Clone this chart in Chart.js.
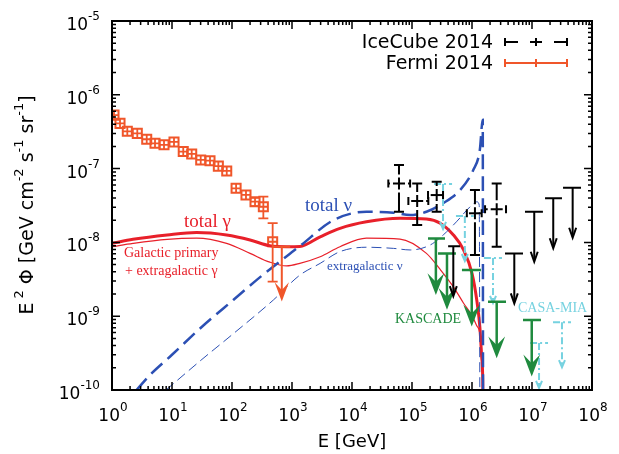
<!DOCTYPE html>
<html>
<head>
<meta charset="utf-8">
<script src="https://cdn.jsdelivr.net/npm/chart.js@4.4.1/dist/chart.umd.min.js"></script>
<style>
  html, body { margin: 0; padding: 0; background: #fff; }
  #c { display: block; }
</style>
</head>
<body>
<canvas id="c" width="619" height="454"></canvas>
<script>
// ---- model curves (E in GeV, E^2 Phi in GeV cm^-2 s^-1 sr^-1) ----
const gammaE   = [1, 2.24, 8.3, 25.7, 81.3, 200, 427, 813, 1350, 2950, 6310, 17400, 63100, 174000, 295000, 490000, 724000, 1.0e6, 1.2e6, 1.35e6, 1.45e6, 1.51e6, 1.55e6];
const gammaTot = [9.7e-9, 1.1e-8, 1.26e-8, 1.36e-8, 1.26e-8, 1.08e-8, 9.0e-9, 8.75e-9, 8.8e-9, 1.19e-8, 1.55e-8, 1.9e-8, 2.12e-8, 2.07e-8, 1.82e-8, 1.26e-8, 7.9e-9, 3.8e-9, 1.66e-9, 7.2e-10, 2.8e-10, 1.36e-10, 1e-11];
const gammaGal = [8.75e-9, 9.7e-9, 1.1e-8, 1.14e-8, 9.7e-9, 7.1e-9, 5.4e-9, 4.8e-9, 5.2e-9, 6.4e-9, 8.75e-9, 1.14e-8, 1.11e-8, 7.1e-9, 4.3e-9, 2.5e-9, 1.5e-9, 1.02e-9, 7.4e-10, 5.9e-10, 2.9e-10, 1.36e-10, 1e-11];

const nuTotE = [2.57, 4.3, 10, 31.6, 105, 316, 1000, 1350, 4900, 17400, 49000, 93300, 174000, 331000, 631000, 1.05e6, 1.35e6, 1.51e6, 1.53e6];
const nuTotF = [1e-10, 1.6e-10, 3.0e-10, 7.2e-10, 1.66e-9, 3.55e-9, 7.4e-9, 8.9e-9, 2.0e-8, 2.6e-8, 2.53e-8, 2.35e-8, 2.6e-8, 3.4e-8, 5.1e-8, 9.6e-8, 1.79e-7, 4.6e-7, 1e-11];

const nuExE = [7.94, 31.6, 100, 490, 1350, 2950, 6310, 17400, 49000, 93300, 200000, 331000, 550000, 933000, 1.2e6, 1.32e6, 1.36e6];
const nuExF = [1e-10, 2.6e-10, 5.6e-10, 1.66e-9, 3.6e-9, 5.2e-9, 7.5e-9, 8.6e-9, 8.3e-9, 7.9e-9, 9.2e-9, 1.26e-8, 1.9e-8, 3.05e-8, 3.55e-8, 3.2e-8, 1e-11];

// ---- Fermi 2014 ----
const fermiE   = [1.08, 1.36, 1.8, 2.64, 3.79, 5.21, 7.36, 10.8, 15.4, 21.3, 30.1, 43.0, 59.2, 81.7, 117, 171, 242, 333, 476];
const fermiF   = [5.3e-7, 4.1e-7, 3.2e-7, 3.0e-7, 2.5e-7, 2.2e-7, 2.1e-7, 2.3e-7, 1.7e-7, 1.58e-7, 1.31e-7, 1.28e-7, 1.08e-7, 9.3e-8, 5.4e-8, 4.4e-8, 3.56e-8, 3.04e-8, 1.02e-8];
const fermiFlo = [null, null, null, null, null, null, null, null, null, null, null, null, null, null, null, null, 3.1e-8, 2.12e-8, 2.94e-9];
const fermiFhi = [null, null, null, null, null, null, null, null, null, null, null, null, null, null, null, null, 4.0e-8, 4.17e-8, 1.83e-8];
const fermiUlE = [676], fermiUlF = [8.75e-9], fermiUlElo = [479], fermiUlEhi = [933];

// ---- IceCube 2014 ----
const iceE   = [6.07e4, 1.22e5, 2.58e5, 1.12e6, 2.58e6];
const iceF   = [6.3e-8, 3.64e-8, 4.38e-8, 2.48e-8, 2.81e-8];
const iceElo = [4.03e4, 8.7e4, 1.85e5, 8.2e5, 1.65e6];
const iceEhi = [9.3e4, 1.87e5, 3.29e5, 1.45e6, 3.69e6];
const iceFlo = [2.6e-8, 1.72e-8, 2.6e-8, 6.75e-9, 8.75e-9];
const iceFhi = [1.12e-7, 6.3e-8, 6.63e-8, 5.13e-8, 6.3e-8];
const iceUlE   = [4.88e5, 5.07e6, 1.09e7, 2.26e7, 4.76e7];
const iceUlF   = [8.9e-9, 7.1e-9, 2.6e-8, 3.96e-8, 5.5e-8];
const iceUlElo = [4.0e5, 3.55e6, 7.64e6, 1.65e7, 3.29e7];
const iceUlEhi = [6.3e5, 7.08e6, 1.52e7, 3.16e7, 6.56e7];

// ---- KASCADE ----
const kasE   = [2.5e5, 3.83e5, 9.9e5, 2.58e6, 9.9e6];
const kasF   = [1.13e-8, 7.1e-9, 4.23e-9, 1.57e-9, 8.9e-10];
const kasElo = [1.85e5, 2.71e5, 6.8e5, 1.85e6, 7.08e6];
const kasEhi = [3.55e5, 5.4e5, 1.41e6, 3.69e6, 1.41e7];

// ---- CASA-MIA ----
const casaE   = [3.29e5, 7.6e5, 2.24e6, 1.31e7, 3.16e7];
const casaF   = [6.2e-8, 2.28e-8, 6.15e-9, 4.34e-10, 8.3e-10];
const casaElo = [2.33e5, 5.4e5, 1.58e6, 9.3e6, 2.24e7];
const casaEhi = [4.65e5, 1.07e6, 3.16e6, 1.85e7, 4.47e7];

// axis ticks
const xDecades = [0, 1, 2, 3, 4, 5, 6, 7, 8];
const yDecades = [-10, -9, -8, -7, -6, -5];

const RED = '#e8202a', ORANGE = '#f0562a', BLUE = '#2c50b4', GREEN = '#1f8a3e', CYAN = '#76d2e0';

const pts = (xs, ys) => xs.map((x, i) => ({ x, y: ys[i] }));

function arrowHead(ctx, x, y, w, h, fill) {
  ctx.beginPath();
  ctx.moveTo(x - w, y - h);
  ctx.lineTo(x, y);
  ctx.lineTo(x + w, y - h);
  if (fill) { ctx.lineTo(x, y - h * 0.6); ctx.closePath(); ctx.fill(); }
  ctx.stroke();
}

function upperLimit(ctx, X, Y, e, f, elo, ehi, color, len, opt) {
  const x = X(e), y = Y(f);
  ctx.strokeStyle = color; ctx.fillStyle = color;
  ctx.setLineDash(opt.dash || []);
  ctx.beginPath();
  ctx.moveTo(X(elo), y); ctx.lineTo(X(ehi), y);
  ctx.moveTo(x, y); ctx.lineTo(x, y + len - 2);
  ctx.stroke();
  ctx.setLineDash([]);
  arrowHead(ctx, x, y + len, opt.hw, opt.hh, opt.fill);
}

function arm(ctx, x0, y0, x1, y1, dash) {
  ctx.setLineDash(dash);
  ctx.beginPath(); ctx.moveTo(x0, y0); ctx.lineTo(x1, y1); ctx.stroke();
  ctx.setLineDash([]);
}

function pow10(ctx, exp, x, y, align) {
  const base = '10', sup = String(exp);
  ctx.font = '17px "DejaVu Sans"';
  const wb = ctx.measureText(base).width;
  ctx.font = '12px "DejaVu Sans"';
  const ws = ctx.measureText(sup).width;
  let x0 = align === 'right' ? x - wb - ws : x - (wb + ws) / 2;
  ctx.textAlign = 'left'; ctx.textBaseline = 'alphabetic';
  ctx.font = '17px "DejaVu Sans"';
  ctx.fillText(base, x0, y);
  ctx.font = '12px "DejaVu Sans"';
  ctx.fillText(sup, x0 + wb, y - 10);
}

function richText(ctx, parts, cx, cy) {
  let w = 0;
  parts.forEach(p => { ctx.font = p[1] ? '13px "DejaVu Sans"' : '19px "DejaVu Sans"'; w += ctx.measureText(p[0]).width; });
  let x = cx - w / 2;
  ctx.textAlign = 'left'; ctx.textBaseline = 'alphabetic';
  parts.forEach(p => {
    ctx.font = p[1] ? '13px "DejaVu Sans"' : '19px "DejaVu Sans"';
    ctx.fillText(p[0], x, p[1] ? cy - 10 : cy);
    x += ctx.measureText(p[0]).width;
  });
}

const overlay = {
  id: 'overlay',
  afterDatasetsDraw(chart) {
    const ctx = chart.ctx, a = chart.chartArea;
    const X = v => chart.scales.x.getPixelForValue(v);
    const Y = v => chart.scales.y.getPixelForValue(v);

    ctx.save();
    ctx.beginPath(); ctx.rect(a.left, a.top, a.right - a.left, a.bottom - a.top); ctx.clip();
    ctx.lineCap = 'butt';

    // CASA-MIA (dash-dot)
    ctx.lineWidth = 2;
    casaE.forEach((e, i) => upperLimit(ctx, X, Y, e, casaF[i], casaElo[i], casaEhi[i], CYAN, 45,
      { dash: [7, 3, 2, 3], hw: 3, hh: 7, fill: false }));

    // KASCADE
    ctx.lineWidth = 2.5;
    kasE.forEach((e, i) => upperLimit(ctx, X, Y, e, kasF[i], kasElo[i], kasEhi[i], GREEN, 53,
      { hw: 5, hh: 13, fill: true }));

    // IceCube upper limits
    ctx.lineWidth = 2;
    iceUlE.forEach((e, i) => upperLimit(ctx, X, Y, e, iceUlF[i], iceUlElo[i], iceUlEhi[i], '#000', 50,
      { hw: 3.5, hh: 10, fill: false }));

    // IceCube points
    ctx.strokeStyle = '#000'; ctx.lineWidth = 2;
    const icd = [6, 3, 200];
    iceE.forEach((e, i) => {
      const x = X(e), y = Y(iceF[i]);
      const xl = X(iceElo[i]), xh = X(iceEhi[i]), yl = Y(iceFlo[i]), yh = Y(iceFhi[i]);
      arm(ctx, x, y, xl, y, icd); arm(ctx, x, y, xh, y, icd);
      arm(ctx, x, y, x, yl, icd); arm(ctx, x, y, x, yh, icd);
      ctx.beginPath();
      ctx.moveTo(xl, y - 4); ctx.lineTo(xl, y + 4);
      ctx.moveTo(xh, y - 4); ctx.lineTo(xh, y + 4);
      ctx.moveTo(x - 5, yl); ctx.lineTo(x + 5, yl);
      ctx.moveTo(x - 5, yh); ctx.lineTo(x + 5, yh);
      ctx.stroke();
    });

    // Fermi: inner cross + error bars
    ctx.strokeStyle = ORANGE; ctx.lineWidth = 1.8;
    fermiE.forEach((e, i) => {
      const x = X(e), y = Y(fermiF[i]);
      ctx.beginPath();
      ctx.moveTo(x - 4.5, y); ctx.lineTo(x + 4.5, y);
      ctx.moveTo(x, y - 4.5); ctx.lineTo(x, y + 4.5);
      if (fermiFhi[i] !== null) {
        const yh = Y(fermiFhi[i]), yl = Y(fermiFlo[i]);
        ctx.moveTo(x, yh); ctx.lineTo(x, yl);
        ctx.moveTo(x - 5, yh); ctx.lineTo(x + 5, yh);
        ctx.moveTo(x - 5, yl); ctx.lineTo(x + 5, yl);
      }
      ctx.stroke();
    });
    ctx.lineWidth = 2;
    fermiUlE.forEach((e, i) => upperLimit(ctx, X, Y, e, fermiUlF[i], fermiUlElo[i], fermiUlEhi[i], ORANGE, 52,
      { hw: 4.5, hh: 12, fill: true }));
    ctx.restore();

    // frame and ticks
    ctx.save();
    ctx.strokeStyle = '#000'; ctx.lineWidth = 2;
    ctx.strokeRect(a.left, a.top, a.right - a.left, a.bottom - a.top);
    ctx.lineWidth = 1.5;
    ctx.beginPath();
    xDecades.forEach(d => {
      for (let m = 1; m <= 9; m++) {
        const v = m * Math.pow(10, d);
        if (v > 1e8) break;
        const x = X(v), L = m === 1 ? 8 : 4;
        ctx.moveTo(x, a.bottom); ctx.lineTo(x, a.bottom - L);
        ctx.moveTo(x, a.top); ctx.lineTo(x, a.top + L);
      }
    });
    yDecades.forEach(d => {
      for (let m = 1; m <= 9; m++) {
        const v = m * Math.pow(10, d);
        if (v > 1e-5 * 1.0001) break;
        const y = Y(v), L = m === 1 ? 8 : 4;
        ctx.moveTo(a.left, y); ctx.lineTo(a.left + L, y);
        ctx.moveTo(a.right, y); ctx.lineTo(a.right - L, y);
      }
    });
    ctx.stroke();

    // tick labels
    ctx.fillStyle = '#000';
    xDecades.forEach(d => pow10(ctx, d, X(Math.pow(10, d)) + 1, a.bottom + 31, 'center'));
    yDecades.forEach(d => pow10(ctx, d, a.left - 12, Y(Math.pow(10, d)) + 9, 'right'));

    // axis titles
    ctx.font = '18px "DejaVu Sans"'; ctx.textAlign = 'center';
    ctx.fillText('E [GeV]', (a.left + a.right) / 2, 447);
    ctx.save();
    ctx.translate(33, 205); ctx.rotate(-Math.PI / 2);
    richText(ctx, [['E', 0], [' 2', 1], [' Φ [GeV cm', 0], ['-2', 1], [' s', 0], ['-1', 1], [' sr', 0], ['-1', 1], [']', 0]], 0, 0);
    ctx.restore();

    // legend
    ctx.font = '19px "DejaVu Sans"'; ctx.textAlign = 'right'; ctx.textBaseline = 'middle';
    ctx.fillText('IceCube 2014', 493, 43);
    ctx.fillText('Fermi 2014', 493, 64);
    const lx0 = 505, lx1 = 567, lc = (lx0 + lx1) / 2;
    ctx.lineWidth = 2; ctx.strokeStyle = '#000';
    arm(ctx, lc, 42, lx0, 42, [6, 12, 200]); arm(ctx, lc, 42, lx1, 42, [6, 12, 200]);
    ctx.beginPath();
    [lx0, lc, lx1].forEach(x => { ctx.moveTo(x, 38); ctx.lineTo(x, 46); });
    ctx.stroke();
    ctx.strokeStyle = ORANGE;
    ctx.beginPath();
    ctx.moveTo(lx0, 63); ctx.lineTo(lx1, 63);
    [lx0, lc, lx1].forEach(x => { ctx.moveTo(x, 59); ctx.lineTo(x, 67); });
    ctx.stroke();

    // curve annotations
    ctx.textAlign = 'left'; ctx.textBaseline = 'alphabetic';
    ctx.fillStyle = RED;
    ctx.font = '19px "Liberation Serif"'; ctx.fillText('total γ', 184, 227);
    ctx.font = '14px "Liberation Serif"';
    ctx.fillText('Galactic primary', 124, 257);
    ctx.fillText('+ extragalactic γ', 125, 275);
    ctx.fillStyle = BLUE;
    ctx.font = '19px "Liberation Serif"'; ctx.fillText('total ν', 305, 211);
    ctx.font = '13px "Liberation Serif"'; ctx.fillText('extragalactic ν', 327, 270);
    ctx.fillStyle = GREEN;
    ctx.font = '14px "Liberation Serif"'; ctx.fillText('KASCADE', 395, 323);
    ctx.fillStyle = CYAN;
    ctx.font = '14px "Liberation Serif"'; ctx.fillText('CASA-MIA', 518, 312);
    ctx.restore();
  }
};

new Chart(document.getElementById('c'), {
  type: 'line',
  data: {
    datasets: [
      { data: pts(nuExE, nuExF), borderColor: BLUE, borderWidth: 1, borderDash: [10, 5], cubicInterpolationMode: 'monotone', pointRadius: 0 },
      { data: pts(nuTotE, nuTotF), borderColor: BLUE, borderWidth: 2.5, borderDash: [15, 7], cubicInterpolationMode: 'monotone', pointRadius: 0 },
      { data: pts(gammaE, gammaGal), borderColor: RED, borderWidth: 1.2, cubicInterpolationMode: 'monotone', pointRadius: 0 },
      { data: pts(gammaE, gammaTot), borderColor: RED, borderWidth: 3, cubicInterpolationMode: 'monotone', pointRadius: 0 },
      { data: pts(fermiE, fermiF), showLine: false, pointStyle: 'rect', pointRadius: 6.4, pointBorderWidth: 2,
        pointBorderColor: ORANGE, pointBackgroundColor: 'rgba(0,0,0,0)' }
    ]
  },
  options: {
    responsive: false,
    animation: false,
    devicePixelRatio: 1,
    layout: { padding: { left: 112, right: 27, top: 21, bottom: 64 } },
    plugins: { legend: { display: false }, tooltip: { enabled: false } },
    scales: {
      x: { type: 'logarithmic', min: 1, max: 1e8, display: false },
      y: { type: 'logarithmic', min: 1e-10, max: 1e-5, display: false }
    }
  },
  plugins: [overlay]
});
</script>
</body>
</html>
